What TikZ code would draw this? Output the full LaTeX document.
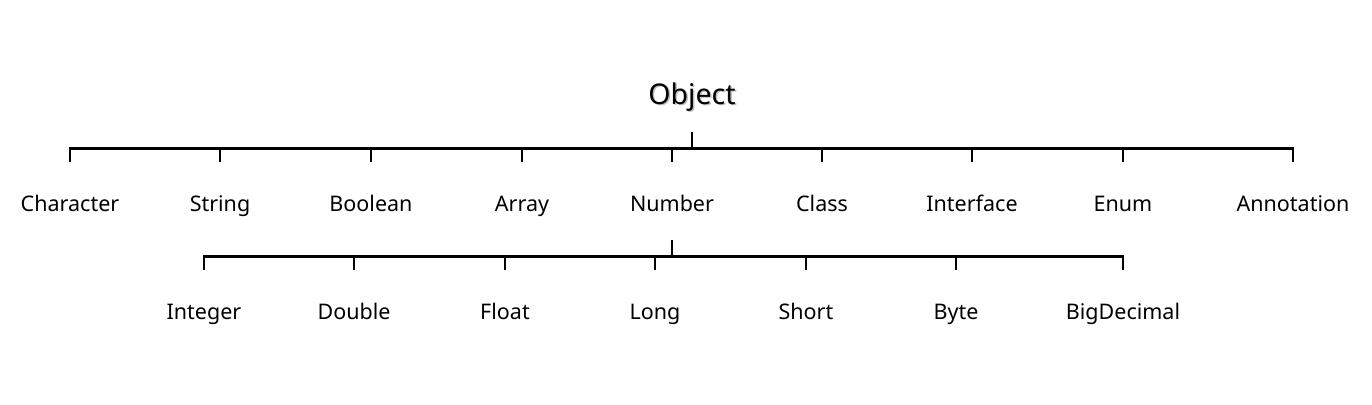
\documentclass[tikz,border=0pt]{standalone}
\usepackage{fontspec}
\setmainfont{Noto Sans}
\usetikzlibrary{positioning}
\tikzset{
  cls/.style={font=\fontsize{21.5}{25}\selectfont, anchor=base, inner sep=0pt},
  bar/.style={line width=3pt},
  tick/.style={line width=2.8pt}
}
\begin{document}
\begin{tikzpicture}[x=1pt,y=-1pt]
\useasboundingbox (0,0) rectangle (1372,404);
% root
\node[inner sep=0pt, anchor=base, font=\fontsize{28.5}{32}\selectfont] (obj) at (692,104) {\rlap{\hspace{1.5pt}\raisebox{-1.5pt}{\color{black!25}Object}}Object};
\coordinate (r) at (692,132);
\coordinate (rb) at (692,148);
\coordinate (left) at (70,148);
\coordinate (right) at (1293,148);
\draw[bar] (left) to (right);
\draw[tick] (r) to (rb);
% first level
\foreach \name/\x/\txt in {c1/70/Character, c2/220/String, c3/371/Boolean, c4/522/Array, c5/672/Number, c6/822/Class, c7/972/Interface, c8/1123/Enum, c9/1293/Annotation}{
  \node[cls] (\name) at (\x,211) {\txt};
  \coordinate (\name t) at (\x,147);
  \draw[tick] (\name t) to (\x,162);
}
% Number
\coordinate (n) at (672,240);
\coordinate (nb) at (672,256);
\coordinate (nleft) at (204,256);
\coordinate (nright) at (1123,256);
\draw[bar] (nleft) to (nright);
\draw[tick] (n) to (nb);
\foreach \name/\x/\txt in {d1/204/Integer, d2/354/Double, d3/505/Float, d4/655/Long, d5/806/Short, d6/956/Byte, d7/1123/BigDecimal}{
  \node[cls] (\name) at (\x,319) {\txt};
  \coordinate (\name t) at (\x,255);
  \draw[tick] (\name t) to (\x,270);
}
\end{tikzpicture}
\end{document}
